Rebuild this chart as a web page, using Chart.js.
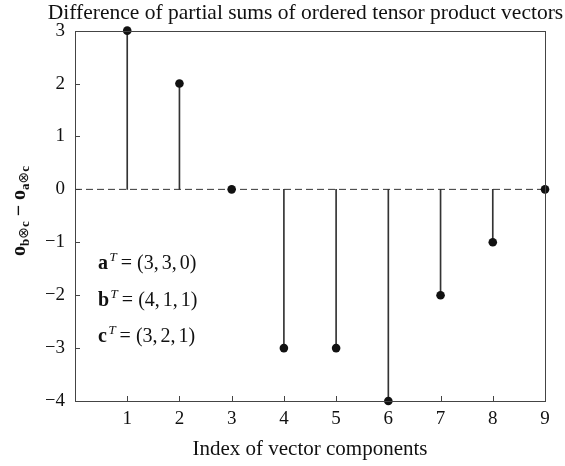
<!DOCTYPE html>
<html>
<head>
<meta charset="utf-8">
<script src="https://cdn.jsdelivr.net/npm/chart.js@4.4.1/dist/chart.umd.min.js"></script>
<style>
  html, body { margin: 0; padding: 0; background: #fff; }
  #wrap { width: 565px; height: 466px; }
</style>
</head>
<body>
<div id="wrap"><canvas id="c" width="565" height="466"></canvas></div>
<script>
const indices = [1, 2, 3, 4, 5, 6, 7, 8, 9];
const diffs = [3, 2, 0, -3, -3, -4, -2, -1, 0];
const xRange = [0, 9];
const yRange = [-4, 3];
const titleText = 'Difference of partial sums of ordered tensor product vectors';
const xTitle = 'Index of vector components';
const vectorLabels = ['a', 'b', 'c'];
const vectorValues = [[3, 3, 0], [4, 1, 1], [3, 2, 1]];

const FONT = "'Liberation Serif', 'DejaVu Serif', serif";
const points = indices.map((x, i) => ({ x: x, y: diffs[i] }));
const zeroLine = xRange.map(x => ({ x: x, y: 0 }));

const fmt = v => (v < 0 ? '\u2212' + Math.abs(v) : String(v));

const decor = {
  id: 'decor',
  beforeDatasetsDraw(chart) {
    const { ctx, chartArea: a, scales } = chart;
    ctx.save();
    ctx.strokeStyle = '#444';
    ctx.lineWidth = 1;
    ctx.beginPath();
    scales.x.ticks.forEach(t => {
      if (t.value <= xRange[0] || t.value >= xRange[1]) return;
      const px = Math.round(scales.x.getPixelForValue(t.value)) + 0.5;
      ctx.moveTo(px, a.bottom);
      ctx.lineTo(px, a.bottom - 5);
    });
    scales.y.ticks.forEach(t => {
      if (t.value <= yRange[0] || t.value >= yRange[1]) return;
      const py = Math.round(scales.y.getPixelForValue(t.value)) + 0.5;
      ctx.moveTo(a.left, py);
      ctx.lineTo(a.left + 5, py);
    });
    ctx.stroke();
    ctx.restore();
  },
  afterDraw(chart) {
    const { ctx, chartArea: a } = chart;
    ctx.save();
    ctx.strokeStyle = '#444';
    ctx.lineWidth = 1;
    ctx.strokeRect(Math.round(a.left) + 0.5, Math.round(a.top) + 0.5,
                   Math.round(a.right - a.left), Math.round(a.bottom - a.top));

    // y-axis title with subscripts (rotated)
    ctx.fillStyle = '#111';
    ctx.textBaseline = 'alphabetic';
    ctx.translate(25, 211);
    ctx.rotate(-Math.PI / 2);
    const big = "bold 20px " + FONT;
    const sub = "bold 13px " + FONT;
    const subN = "14px 'DejaVu Sans', sans-serif";
    const parts = [
      { t: 'o', f: big, dy: 0 },
      { t: 'b', f: sub, dy: 4 },
      { t: '\u2297', f: subN, dy: 3 },
      { t: 'c', f: sub, dy: 4 },
      { t: ' \u2212 ', f: big, dy: 0 },
      { t: 'o', f: big, dy: 0 },
      { t: 'a', f: sub, dy: 4 },
      { t: '\u2297', f: subN, dy: 3 },
      { t: 'c', f: sub, dy: 4 }
    ];
    let total = 0;
    parts.forEach(p => { ctx.font = p.f; p.w = ctx.measureText(p.t).width; total += p.w; });
    let x = -total / 2;
    parts.forEach(p => { ctx.font = p.f; ctx.fillText(p.t, x, p.dy); x += p.w; });
    ctx.restore();

    // annotation
    ctx.save();
    ctx.fillStyle = '#111';
    ctx.textBaseline = 'alphabetic';
    const baseX = 98;
    const baseY = [269, 306, 342];
    vectorLabels.forEach((lab, i) => {
      let px = baseX;
      const y = baseY[i];
      ctx.font = "bold 20px " + FONT;
      ctx.fillText(lab, px, y);
      px += ctx.measureText(lab).width + 1.5;
      ctx.font = "italic 13px " + FONT;
      ctx.fillText('T', px, y - 8);
      px += ctx.measureText('T').width + 4;
      ctx.font = "20px " + FONT;
      ctx.fillText('=', px, y);
      px += ctx.measureText('=').width + 5;
      const s = '(' + vectorValues[i].join(',') + ')';
      for (const ch of s) {
        ctx.fillText(ch, px, y);
        px += ctx.measureText(ch).width + (ch === ',' ? 3 : 0);
      }
    });
    ctx.restore();
  }
};

new Chart(document.getElementById('c'), {
  type: 'bar',
  data: {
    datasets: [
      {
        type: 'scatter',
        data: points,
        pointRadius: 4.3,
        pointHoverRadius: 4.3,
        pointBackgroundColor: '#111',
        pointBorderColor: '#111',
        pointBorderWidth: 0,
        clip: false,
        order: 0
      },
      {
        type: 'line',
        data: zeroLine,
        borderColor: '#333',
        borderWidth: 1,
        borderDash: [7, 4],
        pointRadius: 0,
        fill: false,
        order: 1
      },
      {
        type: 'bar',
        data: points,
        backgroundColor: '#333',
        borderWidth: 0,
        barThickness: 1,
        order: 2
      }
    ]
  },
  options: {
    responsive: false,
    animation: false,
    events: [],
    layout: { padding: { left: 46, right: 0, top: 0, bottom: 0 } },
    plugins: {
      legend: { display: false },
      tooltip: { enabled: false },
      title: {
        display: true,
        text: titleText,
        fullSize: true,
        color: '#111',
        font: { family: FONT, size: 21.5, weight: 'normal', lineHeight: 1.1 },
        padding: { top: 2, bottom: 5 }
      }
    },
    scales: {
      x: {
        type: 'linear',
        min: xRange[0],
        max: xRange[1],
        offset: false,
        grid: { display: false, drawTicks: false, offset: false },
        border: { display: false },
        ticks: {
          stepSize: 1,
          color: '#111',
          padding: 7,
          font: { family: FONT, size: 19 },
          callback: v => (v === xRange[0] ? '' : fmt(v))
        },
        title: {
          display: true,
          text: xTitle,
          color: '#111',
          font: { family: FONT, size: 21 },
          padding: { top: 4, bottom: 4 }
        },
        afterFit: s => { s.height = 65; }
      },
      y: {
        type: 'linear',
        min: yRange[0],
        max: yRange[1],
        grid: { display: false, drawTicks: false },
        border: { display: false },
        ticks: {
          stepSize: 1,
          color: '#111',
          padding: 10,
          font: { family: FONT, size: 19 },
          callback: v => fmt(v)
        },
        afterFit: s => { s.width = 29; }
      },
      yRight: {
        type: 'linear',
        position: 'right',
        min: yRange[0],
        max: yRange[1],
        grid: { display: false, drawTicks: false },
        border: { display: false },
        ticks: { display: false },
        afterFit: s => { s.width = 20; }
      }
    }
  },
  plugins: [decor]
});
</script>
</body>
</html>
